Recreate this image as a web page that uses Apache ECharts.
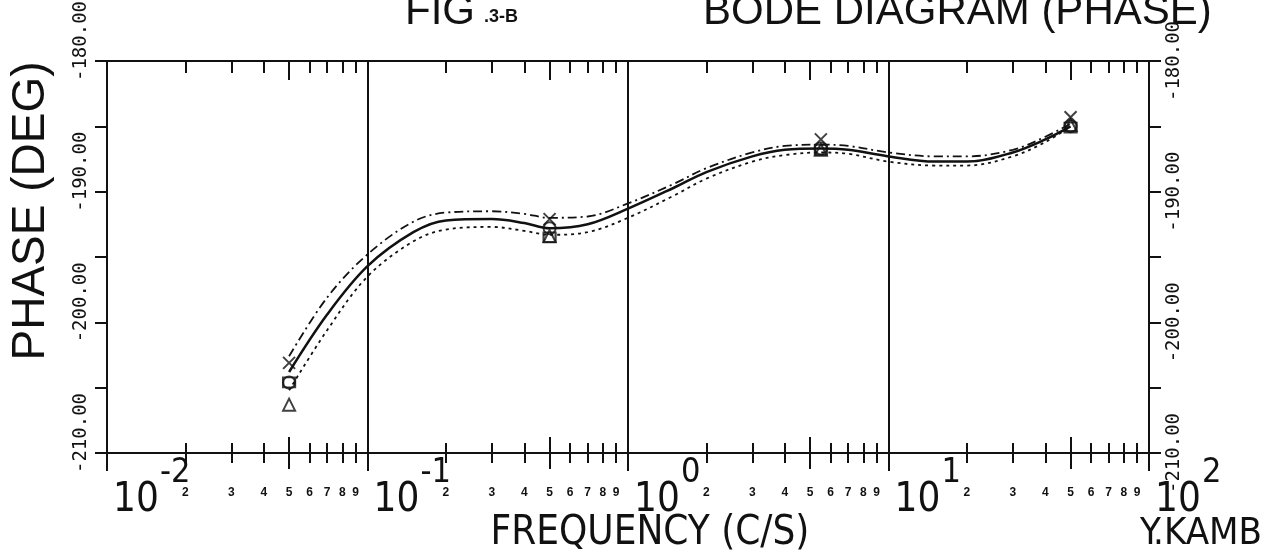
<!DOCTYPE html>
<html>
<head>
<meta charset="utf-8">
<script src="https://cdn.jsdelivr.net/npm/echarts@6/dist/echarts.min.js"></script>
<style>
  html, body { margin: 0; padding: 0; background: #fff; }
  #chart { width: 1267px; height: 552px; }
</style>
</head>
<body>
<div id="chart"></div>
<script>
// Frequencies (c/s) at which the fitted phase curves are sampled
const freqs = [0.05, 0.07, 0.1, 0.15, 0.2, 0.3, 0.4, 0.5, 0.7, 1, 1.5, 2, 3, 4, 5.5, 7, 10, 15, 20, 30, 40, 50];
// Phase (deg): fitted curve and its upper / lower bounds
const phaseMid   = [-203.8, -199.4, -195.7, -193.1, -192.2, -192.1, -192.4, -192.8, -192.5, -191.3, -189.7, -188.5, -187.3, -186.8, -186.7, -186.8, -187.3, -187.7, -187.7, -187.0, -186.0, -185.0];
const phaseUpper = [-202.6, -198.1, -194.8, -192.3, -191.6, -191.5, -191.7, -192.0, -191.9, -190.9, -189.4, -188.2, -187.0, -186.5, -186.4, -186.5, -187.0, -187.3, -187.3, -186.8, -185.8, -184.8];
const phaseLower = [-205.2, -200.6, -196.5, -193.8, -192.9, -192.7, -193.0, -193.3, -193.1, -192.0, -190.3, -189.0, -187.7, -187.2, -187.0, -187.1, -187.7, -188.0, -188.0, -187.3, -186.2, -185.0];

// Measured points
const markFreqs = [0.05, 0.5, 5.5, 50];
const markCross    = [-203.1, -192.1, -186.0, -184.3];
const markCircle   = [-204.6, -192.8, -186.7, -185.0];
const markTriangle = [-206.3, -193.4, -186.8, -184.9];
const markSquare   = [-204.6, -193.5, -186.8, -185.1];

// Axis tick labels
const decades = [-2, -1, 0, 1, 2];
const minorDigits = [2, 3, 4, 5, 6, 7, 8, 9];
const phaseLabels = [-210, -200, -190, -180];

const lg = Math.log10;
const toPts = (fs, ps) => fs.map((f, i) => [lg(f), ps[i]]);

const allMinor = [], plainMinor = [], fiveMinor = [];
decades.slice(0, 4).forEach(d => minorDigits.forEach(k => {
  const v = d + lg(k);
  allMinor.push(v);
  (k === 5 ? fiveMinor : plainMinor).push(v);
}));

const INK = '#111';
const NARROW = '"Liberation Sans Narrow", "DejaVu Sans Condensed", sans-serif';
const SANS = '"Liberation Sans", Arial, sans-serif';

function xa(extra) {
  return Object.assign({
    type: 'value', min: -2, max: 2, gridIndex: 0,
    axisLine: { show: false }, axisTick: { show: false },
    axisLabel: { show: false }, splitLine: { show: false }
  }, extra);
}
const tick = (vals, len, inside) => ({
  show: true, customValues: vals, length: len, inside: inside,
  lineStyle: { color: INK, width: 2 }
});

const xAxes = [
  // main bottom axis: line, plain minor ticks (inside), digit labels
  xa({ position: 'bottom',
       axisLine: { show: true, onZero: false, lineStyle: { color: INK, width: 2 } },
       axisTick: tick(plainMinor, 10, true),
       axisLabel: { show: true, customValues: allMinor, margin: 34,
         formatter: v => String(Math.round(Math.pow(10, v - Math.floor(v + 1e-9)))),
         fontSize: 12, fontWeight: 'bold', fontFamily: SANS, color: INK } }),
  xa({ position: 'bottom', axisTick: tick(plainMinor, 10, false) }),
  xa({ position: 'bottom', axisTick: tick(fiveMinor, 16, true) }),
  xa({ position: 'bottom', axisTick: tick(fiveMinor, 16, false) }),
  // decades: grid lines, long ticks below the axis, "10" labels
  xa({ position: 'bottom', interval: 1,
       axisTick: { show: true, length: 18, inside: false, lineStyle: { color: INK, width: 2 } },
       splitLine: { show: true, lineStyle: { color: INK, width: 2 } },
       axisLabel: { show: true, interval: 0, margin: 28, formatter: () => '10',
         align: 'left', verticalAlign: 'top', padding: [0, 0, 0, 6],
         fontSize: 40, fontFamily: NARROW, color: INK } }),
  // decade exponents
  xa({ position: 'bottom', interval: 1,
       axisLabel: { show: true, interval: 0, margin: 3, formatter: v => String(v),
         align: 'left', verticalAlign: 'top', padding: [0, 0, 0, 53],
         fontSize: 34, fontFamily: NARROW, color: INK } }),
  // top frame with inward ticks
  xa({ position: 'top',
       axisLine: { show: true, onZero: false, lineStyle: { color: INK, width: 2 } },
       axisTick: tick(plainMinor, 12, true) }),
  xa({ position: 'top', axisTick: tick(fiveMinor, 19, true) })
];

const yLabel = (extra) => Object.assign({
  show: true, interval: 0, rotate: 90, align: 'center', verticalAlign: 'middle',
  fontSize: 19, fontFamily: '"DejaVu Sans Mono", monospace', color: INK,
  formatter: v => phaseLabels.includes(v) ? v.toFixed(2) : ''
}, extra);

const yAxes = [
  { type: 'value', position: 'left', min: -210, max: -180, interval: 5,
    axisLine: { show: true, onZero: false, lineStyle: { color: INK, width: 2 } },
    axisTick: { show: true, length: 12, inside: false, lineStyle: { color: INK, width: 2 } },
    splitLine: { show: false },
    axisLabel: yLabel({ margin: 26, padding: [0, 0, 0, 40] }) },
  { type: 'value', position: 'right', min: -210, max: -180, interval: 5,
    axisLine: { show: true, onZero: false, lineStyle: { color: INK, width: 2 } },
    axisTick: { show: true, length: 12, inside: false, lineStyle: { color: INK, width: 2 } },
    splitLine: { show: false },
    axisLabel: yLabel({ margin: 25 }) }
];

const curve = (data, type, width) => ({
  type: 'line', data: data, smooth: 0.35, showSymbol: false, silent: true,
  lineStyle: { color: INK, width: width, type: type }, z: 3
});
const marks = (vals, symbol, size) => ({
  type: 'scatter', data: toPts(markFreqs, vals), symbol: symbol, symbolSize: size,
  itemStyle: { color: 'none', borderColor: INK, borderWidth: 2 }, z: 4
});

const chart = echarts.init(document.getElementById('chart'), null, { renderer: 'canvas' });
chart.setOption({
  backgroundColor: '#fff',
  animation: false,
  grid: { left: 107, right: 118, top: 61, bottom: 99, outerBoundsMode: 'none', containLabel: false },
  xAxis: xAxes,
  yAxis: yAxes,
  series: [
    curve(toPts(freqs, phaseMid), 'solid', 2.5),
    curve(toPts(freqs, phaseUpper), [9, 4, 2, 4], 1.8),
    curve(toPts(freqs, phaseLower), [3, 4], 1.8),
    marks(markCross, 'path://M0 0L12 12M12 0L0 12', 12),
    marks(markCircle, 'circle', 12),
    marks(markTriangle, 'triangle', 12),
    marks(markSquare, 'rect', [12, 10])
  ],
  graphic: [
    { type: 'text', x: 31, y: 211, rotation: Math.PI / 2,
      style: { text: 'PHASE (DEG)', font: '46px ' + SANS, fill: INK, align: 'center', verticalAlign: 'middle' } },
    { type: 'text', x: 703, y: 12,
      style: { text: 'BODE DIAGRAM (PHASE)', font: '42px ' + SANS, fill: INK, align: 'left', verticalAlign: 'middle' } },
    { type: 'text', x: 405, y: 12,
      style: { text: 'FIG', font: '42px ' + SANS, fill: INK, align: 'left', verticalAlign: 'middle' } },
    { type: 'text', x: 484, y: 17,
      style: { text: '.3-B', font: 'bold 18px ' + SANS, fill: INK, align: 'left', verticalAlign: 'middle' } },
    { type: 'text', x: 650, y: 534,
      style: { text: 'FREQUENCY (C/S)', font: '40px ' + NARROW, fill: INK, align: 'center', verticalAlign: 'middle' } },
    { type: 'text', x: 1262, y: 534,
      style: { text: 'Y.KAMB', font: '38px ' + NARROW, fill: INK, align: 'right', verticalAlign: 'middle' } }
  ]
});
</script>
</body>
</html>
